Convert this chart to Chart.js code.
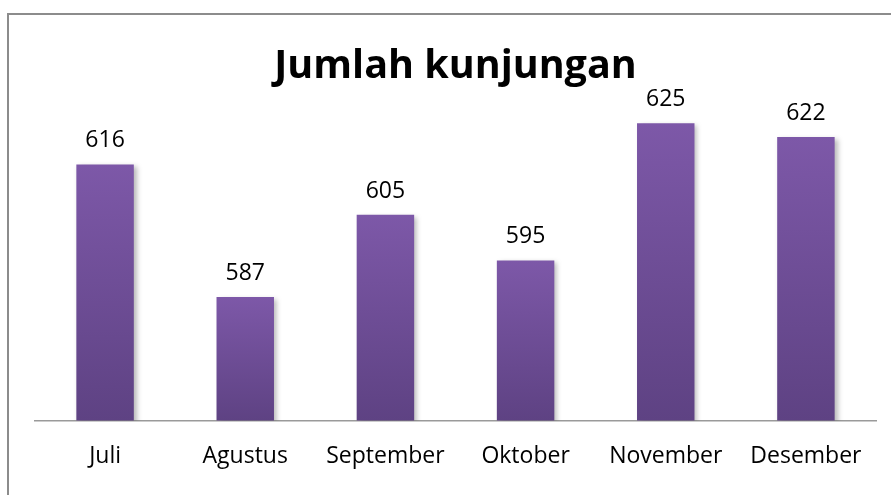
<!DOCTYPE html>
<html>
<head>
<meta charset="utf-8">
<script src="https://cdn.jsdelivr.net/npm/chart.js@4"></script>
<style>
  html, body { margin: 0; padding: 0; background: #fff; overflow: hidden; }
  #wrap { position: relative; width: 891px; height: 495px; }
  #frame { position: absolute; left: 7px; top: 13px; width: 900px; height: 500px;
           border-left: 2px solid #8c8c8c; border-top: 2px solid #8c8c8c; }
  canvas { position: absolute; left: 0; top: 0; }
</style>
</head>
<body>
<div id="wrap">
  <div id="frame"></div>
  <canvas id="chartKunjungan" width="891" height="495"></canvas>
</div>
<script>
const bulan = ["Juli", "Agustus", "September", "Oktober", "November", "Desember"];
const kunjungan = [616, 587, 605, 595, 625, 622];

const barLabels = {
  id: "barLabels",
  beforeDatasetsDraw(chart) {
    const ctx = chart.ctx;
    ctx.save();
    ctx.shadowColor = "rgba(0, 0, 0, 0.28)";
    ctx.shadowBlur = 5;
    ctx.shadowOffsetX = 3;
    ctx.shadowOffsetY = 2;
  },
  afterDatasetsDraw(chart) {
    const ctx = chart.ctx;
    ctx.restore();
    ctx.save();
    ctx.font = "23px 'Open Sans'";
    ctx.fillStyle = "#000";
    ctx.textAlign = "center";
    ctx.textBaseline = "alphabetic";
    chart.getDatasetMeta(0).data.forEach((bar, i) => {
      ctx.fillText(kunjungan[i], bar.x, bar.y - 17);
    });
    ctx.restore();
  },
};

new Chart(document.querySelector("#chartKunjungan"), {
  type: "bar",
  data: {
    labels: bulan,
    datasets: [
      {
        label: "Jumlah kunjungan",
        data: kunjungan,
        backgroundColor: (c) => {
          const chart = c.chart;
          const area = chart.chartArea;
          if (!area) return "#6d4d98";
          const top = chart.scales.y.getPixelForValue(c.raw);
          const g = chart.ctx.createLinearGradient(0, top, 0, area.bottom);
          g.addColorStop(0, "#7d58a8");
          g.addColorStop(1, "#5e4283");
          return g;
        },
        borderWidth: 0,
        categoryPercentage: 1,
        barPercentage: 0.41,
      },
    ],
  },
  options: {
    responsive: false,
    animation: false,
    layout: {
      padding: { left: 35, right: 15, top: 0, bottom: 3 },
    },
    scales: {
      y: {
        display: false,
        min: 560,
        max: 630,
      },
      x: {
        grid: { display: false, drawTicks: false, tickLength: 0 },
        border: { display: true, color: "#9a9a9a", width: 1.5 },
        ticks: {
          color: "#000",
          padding: 22,
          font: { family: "'Open Sans'", size: 23 },
        },
      },
    },
    plugins: {
      legend: { display: false },
      tooltip: { enabled: false },
      title: {
        display: true,
        text: "Jumlah kunjungan",
        color: "#000",
        font: { family: "'Open Sans'", size: 39.5, weight: "bold" },
        padding: { top: 43, bottom: 10 },
      },
    },
  },
  plugins: [barLabels],
});
</script>
</body>
</html>
